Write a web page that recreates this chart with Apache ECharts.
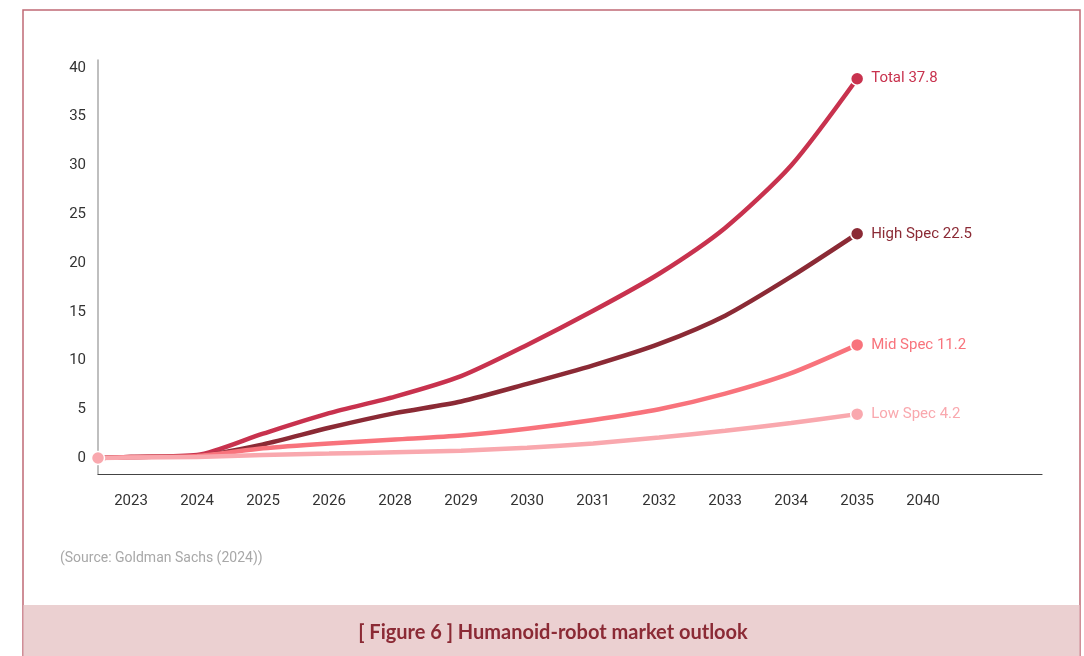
<!DOCTYPE html>
<html>
<head>
<meta charset="utf-8">
<script src="https://cdn.jsdelivr.net/npm/echarts@6/dist/echarts.min.js"></script>
<style>
html,body{margin:0;padding:0;background:#fff;}
#chart{width:1084px;height:656px;}
</style>
</head>
<body>
<div id="chart"></div>
<script>
// ---- data ----
const categories = ['2023','2024','2025','2026','2028','2029','2030','2031','2032','2033','2034','2035','2040'];
const seriesNames = ['Total', 'High Spec', 'Mid Spec', 'Low Spec'];
const endLabels = ['Total 37.8', 'High Spec 22.5', 'Mid Spec 11.2', 'Low Spec 4.2'];
// value at the origin, then one value per category 2023..2035
const totalValues = [0, 0.1, 0.3, 2.5, 4.6, 6.3, 8.4, 11.6, 15.1, 18.9, 23.6, 30.0, 38.9];
const highValues  = [0, 0.1, 0.2, 1.4, 3.1, 4.6, 5.8, 7.6, 9.5, 11.7, 14.6, 18.6, 23.0];
const midValues   = [0, 0.1, 0.2, 1.0, 1.5, 1.9, 2.3, 3.0, 3.9, 5.0, 6.6, 8.7, 11.6];
const lowValues   = [0, 0.05, 0.1, 0.3, 0.45, 0.6, 0.75, 1.05, 1.5, 2.1, 2.8, 3.6, 4.5];
const yTicks = [0, 5, 10, 15, 20, 25, 30, 35, 40];
const colors = ['#c8324e', '#8b2a35', '#f8737c', '#f9a8ae'];

// x positions: origin at 0, category i centred at i + 0.5
function toPoints(vals) {
  return vals.map((v, i) => [i === 0 ? 0 : i - 0.5, v]);
}
const allValues = [totalValues, highValues, midValues, lowValues];

const chart = echarts.init(document.getElementById('chart'));
const fontFamily = 'Roboto, "Noto Sans", sans-serif';

const series = allValues.map((vals, s) => ({
  name: seriesNames[s],
  type: 'line',
  data: toPoints(vals),
  smooth: 0.25,
  z: 2 + s,
  symbol: 'circle',
  showSymbol: true,
  symbolSize: (v, p) => {
    if (p.dataIndex === vals.length - 1) return 13;
    if (p.dataIndex === 0 && s === 3) return 13;
    return 0;
  },
  lineStyle: { color: colors[s], width: 4.5, cap: 'round' },
  itemStyle: { color: colors[s], borderColor: '#fff', borderWidth: 1.5 },
  emphasis: { disabled: true },
  endLabel: {
    show: true,
    formatter: () => endLabels[s],
    color: colors[s],
    fontFamily: fontFamily,
    fontSize: 15,
    distance: 14
  },
  animation: false
}));

const option = {
  animation: false,
  grid: { left: 98, right: 42, top: 60, bottom: 182, containLabel: false },
  xAxis: {
    type: 'value',
    min: 0,
    max: 14.3,
    axisLine: { show: true, onZero: false, lineStyle: { color: '#444', width: 1.2 } },
    axisTick: { show: false },
    splitLine: { show: false },
    axisLabel: {
      customValues: categories.map((c, i) => i + 0.5),
      formatter: v => categories[Math.round(v - 0.5)],
      color: '#333',
      fontFamily: fontFamily,
      fontSize: 15,
      margin: 20
    }
  },
  yAxis: {
    type: 'value',
    min: -1.64,
    max: 40.82,
    axisLine: { show: true, onZero: false, lineStyle: { color: '#aaa', width: 1.5 } },
    axisTick: { show: false },
    splitLine: { show: false },
    axisLabel: {
      customValues: yTicks,
      color: '#333',
      fontFamily: fontFamily,
      fontSize: 15,
      margin: 12
    }
  },
  series: series,
  graphic: [
    {
      type: 'rect',
      shape: { x: 23, y: 10, width: 1057, height: 660 },
      style: { fill: 'none', stroke: '#c06a75', lineWidth: 1.5 },
      z: 0, silent: true
    },
    {
      type: 'rect',
      shape: { x: 23.5, y: 605, width: 1056, height: 55 },
      style: { fill: '#ebd0d1' },
      z: 0, silent: true
    },
    {
      type: 'text',
      left: 60, top: 551,
      style: {
        text: '(Source: Goldman Sachs (2024))',
        fill: '#a8a8a8',
        font: '14px ' + fontFamily
      },
      silent: true
    },
    {
      type: 'text',
      x: 553, y: 633,
      style: {
        text: '[ Figure 6 ] Humanoid-robot market outlook',
        fill: '#8b2a35',
        font: 'bold 20px Lato, "Noto Sans", sans-serif',
        align: 'center',
        verticalAlign: 'middle'
      },
      silent: true
    }
  ]
};
chart.setOption(option);
</script>
</body>
</html>
